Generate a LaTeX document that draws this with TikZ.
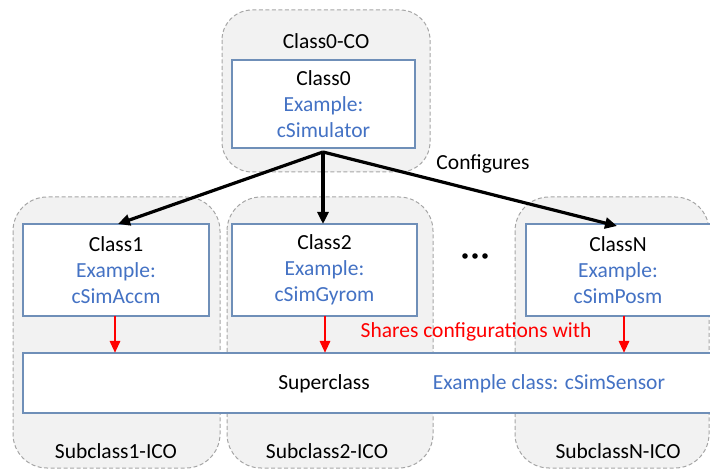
\documentclass[tikz,border=0pt]{standalone}
\usepackage{fontspec}
\setmainfont{Carlito}
\usetikzlibrary{arrows.meta}
\definecolor{exblue}{HTML}{4472C4}
\definecolor{boxline}{HTML}{6F8FB8}
\definecolor{grpfill}{HTML}{F2F2F2}
\definecolor{grpline}{HTML}{A6A6A6}
\tikzset{
  group/.style={draw=grpline, fill=grpfill, dashed, dash pattern=on 4pt off 2.5pt, line width=1pt, rounded corners=30pt},
  classbox/.style={draw=boxline, fill=white, line width=1.4pt},
  txt/.style={font=\fontsize{21.5}{26}\selectfont, align=center, inner sep=0pt},
  ex/.style={txt, text=exblue},
  cfg/.style={line width=3.2pt, -{Triangle[length=12pt,width=11pt]}},
  share/.style={draw=red, line width=2.8pt, -{Triangle[length=12pt,width=10pt]}, red},
}
\begin{document}
\begin{tikzpicture}[x=1pt,y=-1pt]
\useasboundingbox (0,0) rectangle (710,470);
\clip (0,0) rectangle (710,470);

% dashed groups
\draw[group] (222,10) rectangle (430,172);
\draw[group, rounded corners=34pt] (13,197) rectangle (220,468);
\draw[group, rounded corners=34pt] (227,197) rectangle (433,468);
\draw[group, rounded corners=34pt] (515,197) rectangle (709,468);

% group labels
\node[txt] (lco) at (326,41) {Class0-CO};
\node[txt] (ls1) at (116,451) {Subclass1-ICO};
\node[txt] (ls2) at (327,451) {Subclass2-ICO};
\node[txt] (lsn) at (618,451) {SubclassN-ICO};

% class boxes
\draw[classbox] (232,60) rectangle (415,148);
\node[txt] (c0) at (323.5,104) {Class0\\\textcolor{exblue}{Example:}\\\textcolor{exblue}{cSimulator}};
\draw[classbox] (23,224) rectangle (209,316);
\node[txt] (c1) at (116,270) {Class1\\\textcolor{exblue}{Example:}\\\textcolor{exblue}{cSimAccm}};
\draw[classbox] (232,224) rectangle (417,316);
\node[txt] (c2) at (324.5,270) {Class2\\\textcolor{exblue}{Example:}\\\textcolor{exblue}{cSimGyrom}};
\draw[classbox] (526,224) rectangle (716,316);
\node[txt] (cn) at (618,270) {ClassN\\\textcolor{exblue}{Example:}\\\textcolor{exblue}{cSimPosm}};

% superclass
\draw[classbox] (23,353) rectangle (716,413);
\node[txt] (sup) at (324,384) {Superclass};
\node[ex] (supex) at (549,384) {Example class: cSimSensor};

% anchors for connectors
\coordinate (hub) at (323,152);
\coordinate (t1) at (118,224);
\coordinate (t2) at (323,224);
\coordinate (tn) at (617,226);
\coordinate (b1) at (115,316);
\coordinate (e1) at (115,353);
\coordinate (b2) at (325,316);
\coordinate (e2) at (325,353);
\coordinate (bn) at (624,316);
\coordinate (en) at (624,353);

% configuration arrows
\draw[cfg] (hub) -- (t1);
\draw[cfg] (hub) -- (t2);
\draw[cfg] (hub) -- (tn);
\node[txt] (conf) at (483,164) {Configures};

% ellipsis
\fill (465,256) circle (2.8pt) (475,256) circle (2.8pt) (485,256) circle (2.8pt);

% shared configuration arrows
\draw[share] (b1) -- (e1);
\draw[share] (b2) -- (e2);
\draw[share] (bn) -- (en);
\node[txt, text=red] (shr) at (476,332) {Shares configurations with};
\end{tikzpicture}
\end{document}
